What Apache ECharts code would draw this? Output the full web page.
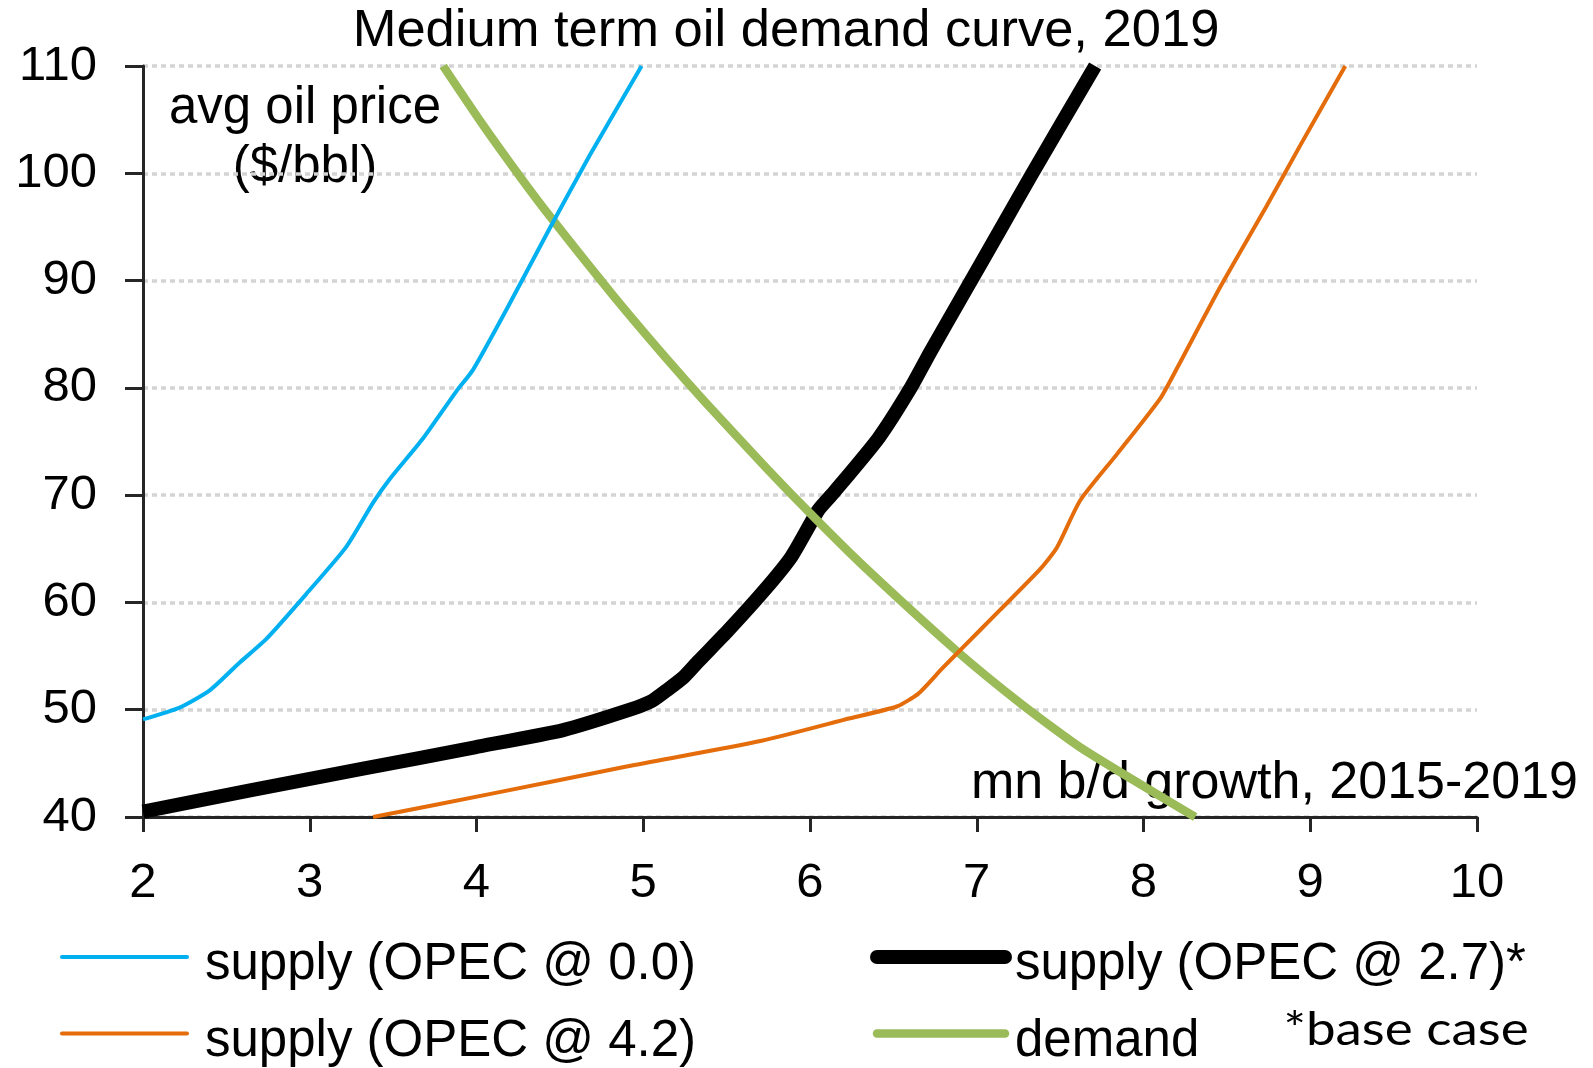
<!DOCTYPE html>
<html>
<head>
<meta charset="utf-8">
<title>Medium term oil demand curve, 2019</title>
<script src="https://cdn.jsdelivr.net/npm/echarts@6/dist/echarts.min.js"></script>
<style>
  html, body { margin: 0; padding: 0; background: #ffffff; }
  #chart { width: 1593px; height: 1068px; }
</style>
</head>
<body>
<div id="chart"></div>
<script>
// Axis ranges and tick settings
const xTicks = { min: 2, max: 10, interval: 1 };
const yTicks = { min: 40, max: 110, interval: 10 };

// Series names
const nameOpec00 = 'supply (OPEC @ 0.0)';
const nameOpec27 = 'supply (OPEC @ 2.7)*';
const nameOpec42 = 'supply (OPEC @ 4.2)';
const nameDemand = 'demand';

// [mn b/d growth 2015-2019, avg oil price $/bbl]
const supplyOpec00 = [
  [2.00, 49.1], [2.22, 50.2], [2.40, 51.8], [2.58, 54.4], [2.74, 56.6],
  [2.98, 60.8], [3.22, 65.2], [3.38, 69.3], [3.48, 71.5], [3.68, 75.3],
  [3.88, 79.7], [3.98, 81.7], [4.18, 87.3], [4.44, 94.9], [4.68, 101.7],
  [4.99, 110.0]
];
const supplyOpec27 = [
  [2.00, 40.5], [2.65, 42.5], [3.32, 44.5], [3.99, 46.5], [4.52, 48.1],
  [4.92, 50.0], [5.05, 50.8], [5.14, 51.8], [5.24, 53.0], [5.33, 54.5],
  [5.51, 57.4], [5.73, 61.2], [5.89, 64.3], [6.05, 68.6], [6.14, 70.2],
  [6.41, 75.3], [6.60, 79.9], [6.72, 83.3], [6.90, 88.2], [7.15, 95.0],
  [7.33, 99.9], [7.71, 110.0]
];
const supplyOpec42 = [
  [3.38, 40.0], [4.10, 42.2], [4.90, 44.7], [5.71, 47.1], [6.24, 49.2],
  [6.52, 50.3], [6.65, 51.5], [6.79, 53.8], [6.91, 55.7], [7.14, 59.3],
  [7.38, 63.1], [7.48, 65.1], [7.62, 69.5], [7.84, 73.8], [8.10, 79.0],
  [8.20, 81.8], [8.46, 89.4], [8.74, 97.0], [8.94, 102.6], [9.21, 110.0]
];
const demand = [
  [3.80, 110.0], [4.03, 104.7], [4.27, 99.5], [4.46, 95.6], [4.82, 88.6],
  [5.13, 82.9], [5.37, 78.7], [5.74, 72.5], [6.02, 68.0], [6.32, 63.4],
  [6.87, 55.6], [7.27, 50.5], [7.63, 46.4], [8.31, 40.0]
];

// Text
const titleText = 'Medium term oil demand curve, 2019';
const yAxisTitle = 'avg oil price\n($/bbl)';
const xAxisTitle = 'mn b/d growth, 2015-2019';
const footNote = '*base case';

const FONT = "'Liberation Sans', Arial, sans-serif";
const AXIS_COLOR = '#262626';

const chart = echarts.init(document.getElementById('chart'), null, { renderer: 'canvas' });

function lineSeries(name, data, color, width) {
  return {
    name: name,
    type: 'line',
    data: data,
    symbol: 'none',
    smooth: 0.2,
    lineStyle: { color: color, width: width, cap: 'butt', join: 'round' },
    itemStyle: { color: color },
    emphasis: { disabled: true },
    animation: false
  };
}

// Legend column: icon on the left; a short empty first line drops each label
// a little below the centre of its icon
function legendColumn(left, itemWidth, textPadLeft, names) {
  return {
    orient: 'vertical',
    left: left,
    top: 924,
    width: 760,
    height: 160,
    padding: 0,
    itemWidth: itemWidth,
    itemHeight: 14,
    itemGap: 10,
    selectedMode: false,
    data: names,
    formatter: (name) => '{pad| }\n' + name,
    lineStyle: { width: 'inherit', cap: 'round' },
    itemStyle: { opacity: 0, borderWidth: 0 },
    textStyle: {
      fontSize: 51,
      fontFamily: FONT,
      color: '#000000',
      lineHeight: 50,
      padding: [0, 0, 0, textPadLeft],
      rich: {
        pad: { fontSize: 10, lineHeight: 16 }
      }
    }
  };
}

const option = {
  backgroundColor: '#ffffff',
  animation: false,
  grid: { left: 143, right: 116, top: 66, bottom: 251, containLabel: false },
  xAxis: {
    type: 'value',
    min: xTicks.min, max: xTicks.max, interval: xTicks.interval,
    axisLine: { show: true, lineStyle: { color: AXIS_COLOR, width: 3 } },
    axisTick: { show: true, inside: false, length: 15, lineStyle: { color: AXIS_COLOR, width: 3 } },
    axisLabel: { fontSize: 49, fontFamily: FONT, color: '#000000', margin: 42, lineHeight: 49 },
    splitLine: { show: false }
  },
  yAxis: {
    type: 'value',
    min: yTicks.min, max: yTicks.max, interval: yTicks.interval,
    axisLine: { show: true, lineStyle: { color: AXIS_COLOR, width: 3 } },
    axisTick: { show: true, inside: false, length: 18, lineStyle: { color: AXIS_COLOR, width: 3 } },
    axisLabel: { fontSize: 49, fontFamily: FONT, color: '#000000', margin: 46, lineHeight: 49, padding: [8, 0, 0, 0] },
    splitLine: { show: true, lineStyle: { color: '#d4d4d4', width: 3.5, type: [5, 4] } }
  },
  legend: [
    legendColumn(60, 125, 13, [nameOpec00, nameOpec42]),
    legendColumn(870, 128, 5, [nameOpec27, nameDemand])
  ],
  graphic: [
    {
      type: 'text', x: 786, y: 32,
      style: { text: titleText, font: '52.5px ' + FONT, fill: '#000000', align: 'center', verticalAlign: 'middle' }
    },
    {
      type: 'text', x: 305, y: 79,
      style: { text: yAxisTitle, font: '51px ' + FONT, lineHeight: 59, fill: '#000000', align: 'center', verticalAlign: 'top' }
    },
    {
      type: 'text', x: 1578, y: 784,
      style: { text: xAxisTitle, font: '52px ' + FONT, fill: '#000000', align: 'right', verticalAlign: 'middle' }
    },
    {
      type: 'text', x: 1406, y: 1030, scaleX: 1.15,
      style: { text: footNote, font: "46px Lato, 'Open Sans', sans-serif", fill: '#000000', align: 'center', verticalAlign: 'middle' }
    }
  ],
  series: [
    lineSeries(nameOpec27, supplyOpec27, '#000000', 14),
    lineSeries(nameDemand, demand, '#9bbb59', 8.5),
    lineSeries(nameOpec00, supplyOpec00, '#00b0f0', 4),
    lineSeries(nameOpec42, supplyOpec42, '#e46c0a', 4)
  ]
};

chart.setOption(option);
</script>
</body>
</html>
